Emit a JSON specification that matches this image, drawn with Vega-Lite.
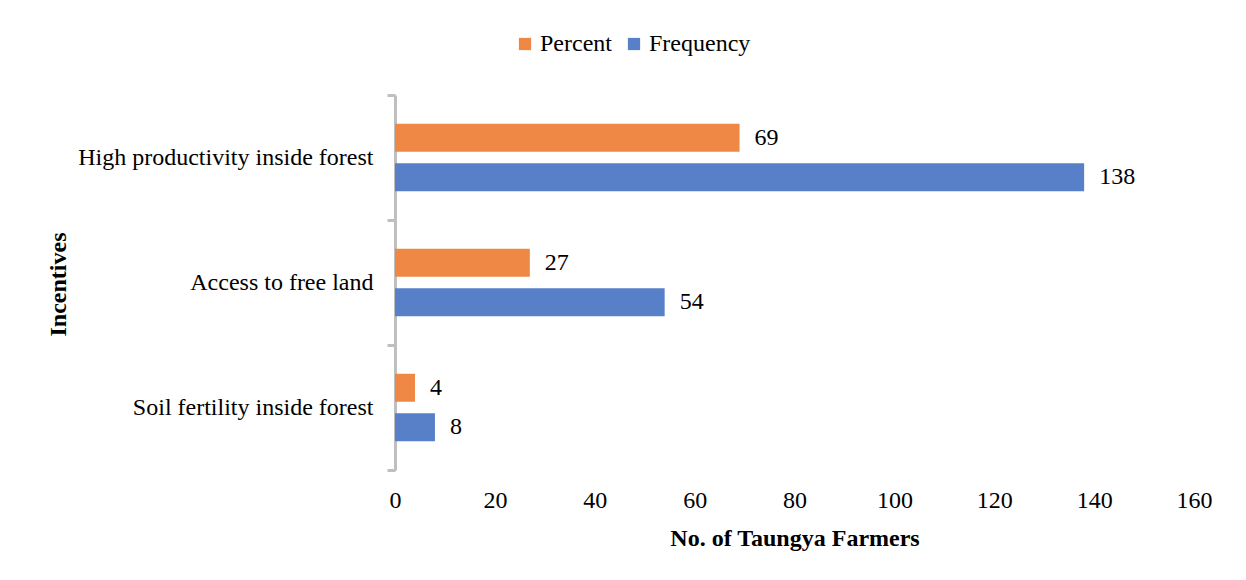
{
  "$schema": "https://vega.github.io/schema/vega-lite/v6.json",
  "width": 799,
  "height": 375,
  "autosize": {"type": "none"},
  "padding": {"left": 395, "top": 95, "right": 52, "bottom": 110},
  "background": "white",
  "config": {"font": "Liberation Serif", "view": {"stroke": null}},
  "data": {"values": [
    {"incentive": "High productivity inside forest", "series": "Percent", "value": 69},
    {"incentive": "High productivity inside forest", "series": "Frequency", "value": 138},
    {"incentive": "Access to free land", "series": "Percent", "value": 27},
    {"incentive": "Access to free land", "series": "Frequency", "value": 54},
    {"incentive": "Soil fertility inside forest", "series": "Percent", "value": 4},
    {"incentive": "Soil fertility inside forest", "series": "Frequency", "value": 8}
  ]},
  "encoding": {
    "y": {
      "field": "incentive", "type": "nominal",
      "sort": ["High productivity inside forest", "Access to free land", "Soil fertility inside forest"],
      "scale": {"paddingInner": 0, "paddingOuter": 0},
      "axis": {
        "title": "Incentives", "titleFontSize": 24, "titleFontWeight": "bold", "titleColor": "black",
        "titleX": -337, "titleY": 189, "titleBaseline": "middle", "titleAngle": -90, "titleAlign": "center",
        "labelFontSize": 24, "labelColor": "black", "labelPadding": 14, "labelLimit": 0,
        "domainColor": "#BFBFBF", "domainWidth": 3, "tickColor": "#BFBFBF", "tickWidth": 3, "tickSize": 8,
        "tickBand": "extent", "grid": false
      }
    },
    "yOffset": {"field": "series", "sort": ["Percent", "Frequency"], "scale": {"paddingInner": 0.291, "paddingOuter": 0.728}},
    "x": {
      "field": "value", "type": "quantitative",
      "scale": {"domain": [0, 160], "nice": false},
      "axis": {
        "values": [0, 20, 40, 60, 80, 100, 120, 140, 160],
        "title": "No. of Taungya Farmers", "titleFontSize": 24, "titleFontWeight": "bold", "titleColor": "black", "titlePadding": 14,
        "labelFontSize": 24, "labelColor": "black", "labelPadding": 18, "labelFlush": false,
        "domain": false, "ticks": false, "grid": false
      }
    }
  },
  "layer": [
    {
      "mark": {"type": "bar"},
      "encoding": {
        "color": {
          "field": "series", "type": "nominal",
          "scale": {"domain": ["Percent", "Frequency"], "range": ["#EF8844", "#5880C9"]},
          "legend": {
            "orient": "none", "legendX": 118, "legendY": -63, "direction": "horizontal",
            "title": null, "symbolType": "square", "symbolSize": 150, "symbolStrokeWidth": 0,
            "labelFontSize": 24, "labelColor": "black", "columnPadding": 10, "labelOffset": 3
          }
        }
      }
    },
    {
      "mark": {"type": "text", "align": "left", "baseline": "middle", "dx": 15, "fontSize": 24, "color": "black"},
      "encoding": {"text": {"field": "value", "type": "quantitative"}}
    }
  ]
}
